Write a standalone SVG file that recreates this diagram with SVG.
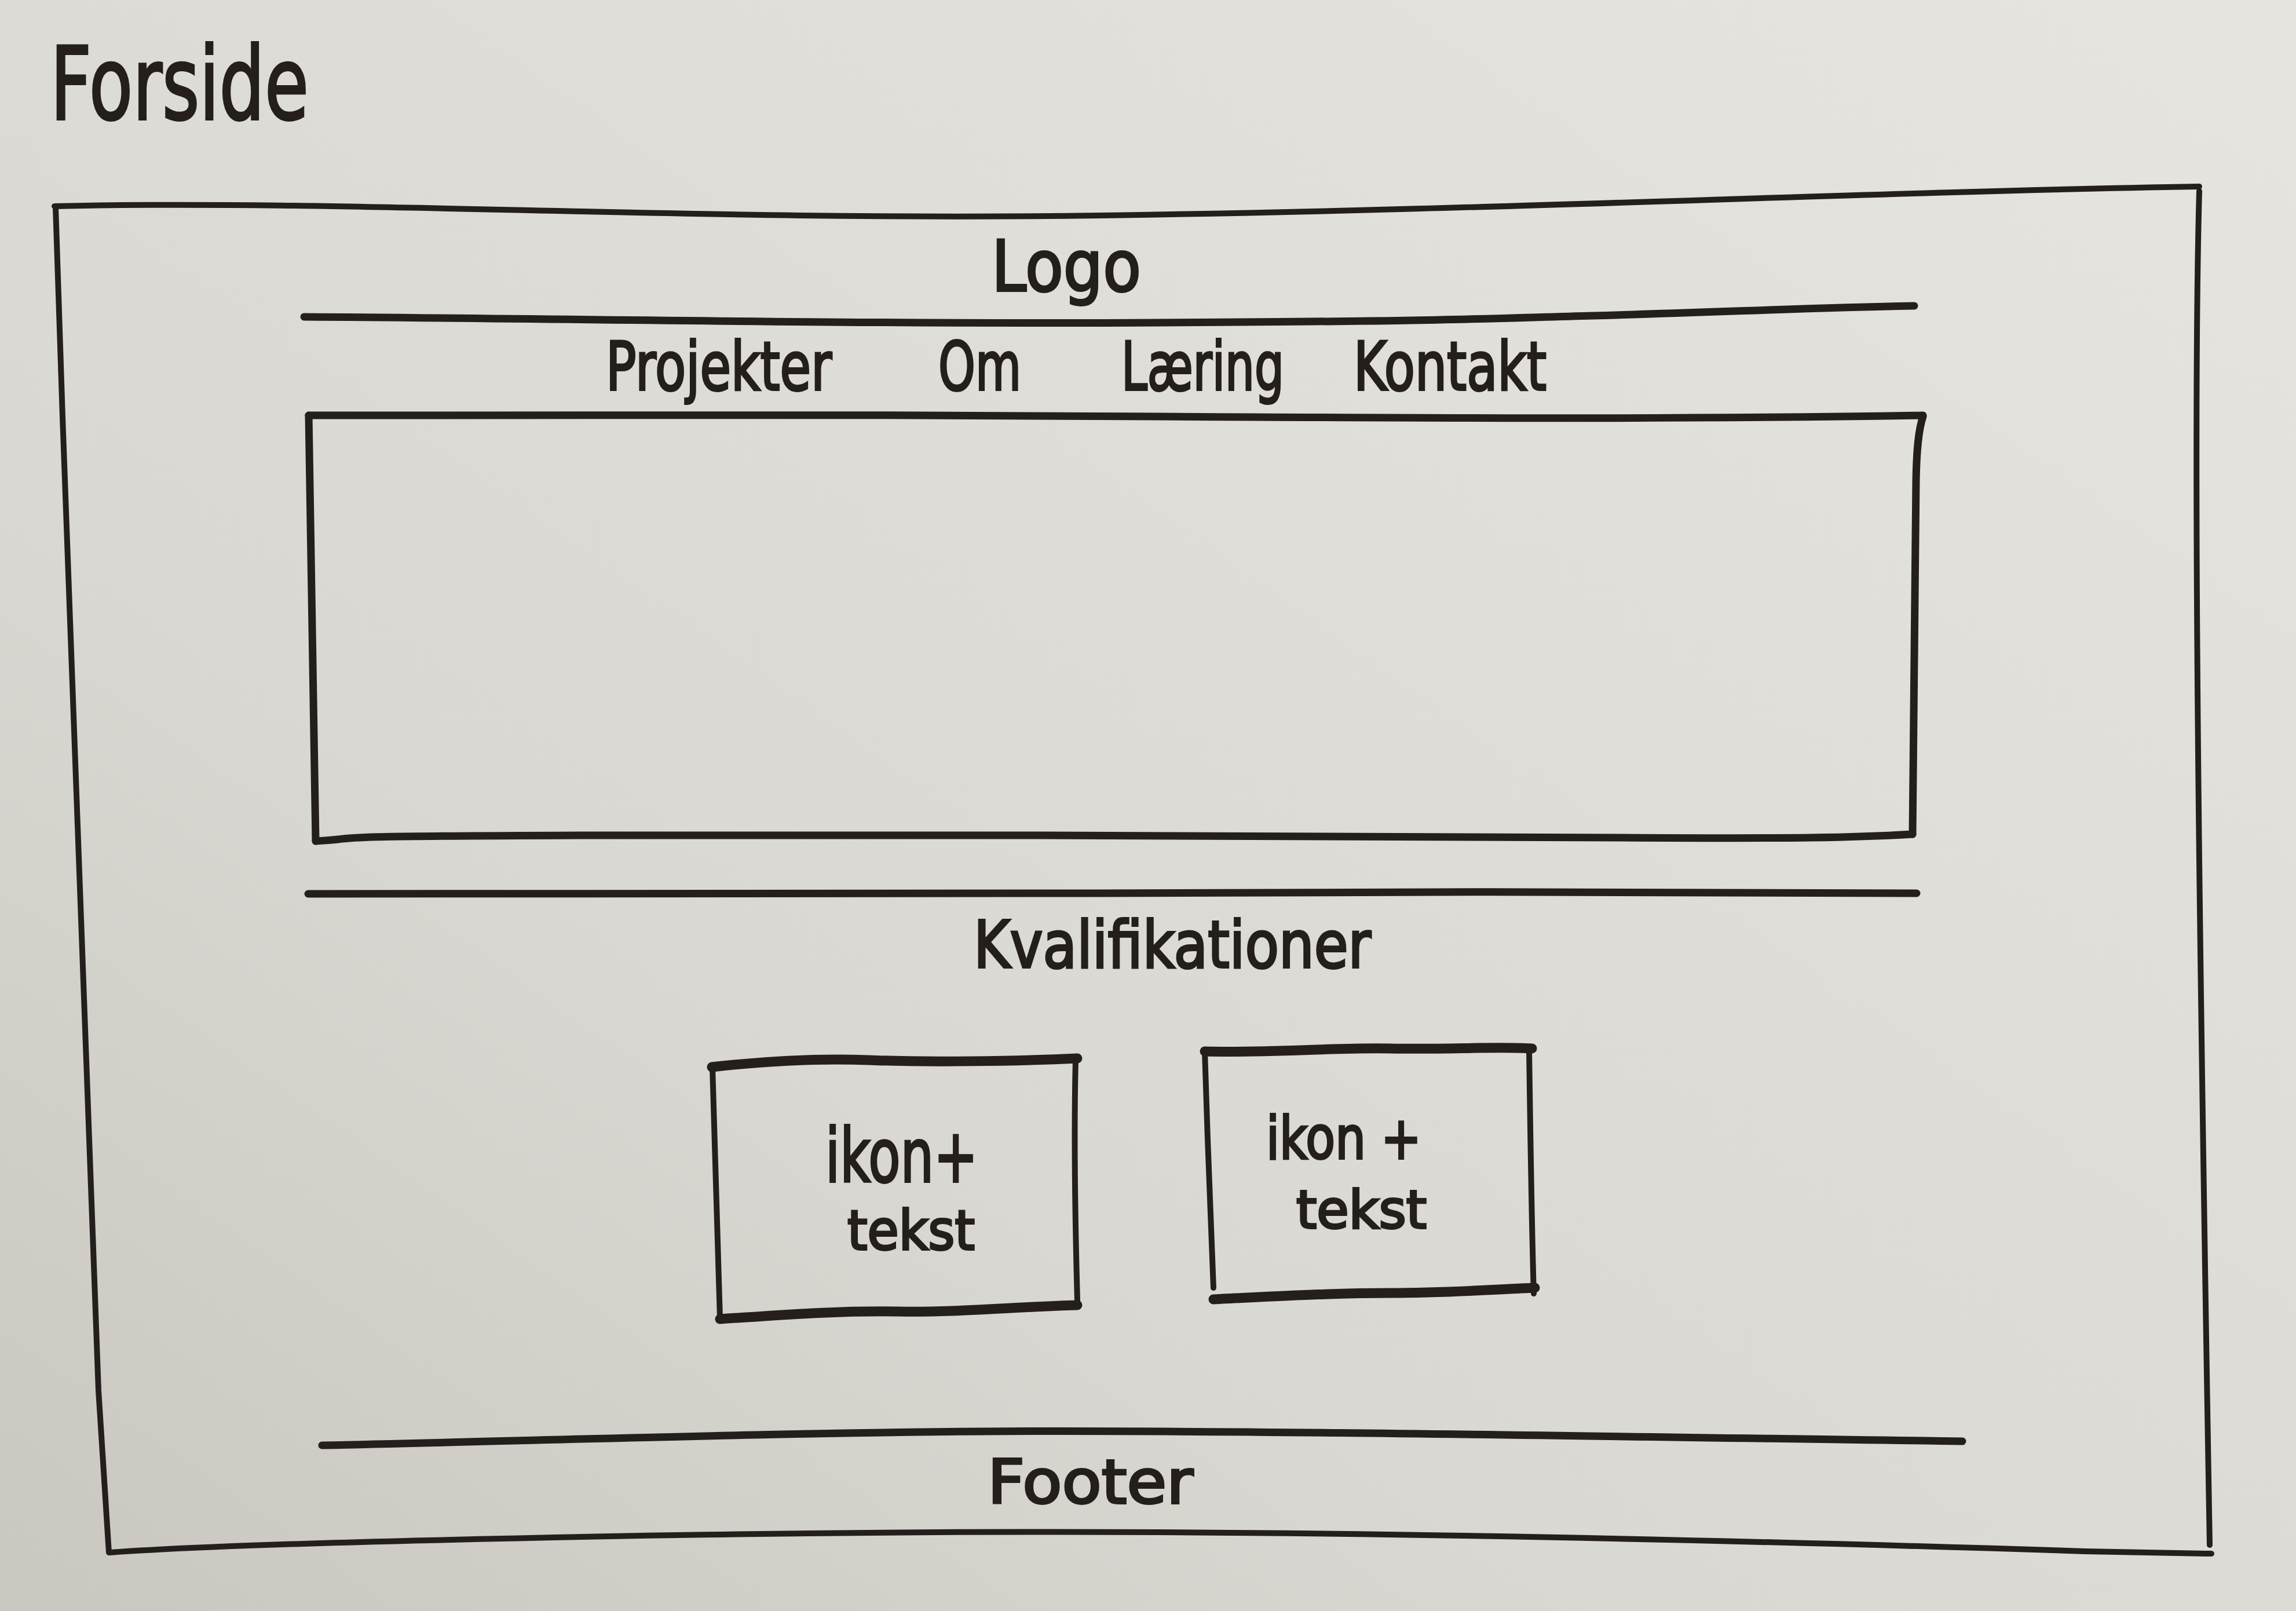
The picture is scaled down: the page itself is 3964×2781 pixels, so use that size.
<svg xmlns="http://www.w3.org/2000/svg" width="3964" height="2781" viewBox="0 0 3964 2781">
  <defs>
    <linearGradient id="paper" x1="0" y1="1" x2="1" y2="0">
      <stop offset="0" stop-color="#c9c7bf"/>
      <stop offset="0.35" stop-color="#d9d8d2"/>
      <stop offset="1" stop-color="#e6e5e0"/>
    </linearGradient>
    <style>
      .ink { fill: none; stroke: #241f1c; stroke-linecap: round; stroke-linejoin: round; }
      .thin { stroke-width: 10; }
      .mid { stroke-width: 13; }
      .thick { stroke-width: 17; }
      .hand { font-family: "DejaVu Sans", "Liberation Sans", sans-serif; fill: #241f1c; stroke: #241f1c; stroke-width: 4; }
    </style>
  </defs>

  <!-- paper -->
  <rect x="0" y="0" width="3964" height="2781" fill="url(#paper)"/>

  <!-- page title -->
  <g id="title">
    <text class="hand" x="87" y="206" font-size="175" textLength="446" lengthAdjust="spacingAndGlyphs">Forside</text>
  </g>

  <!-- outer page frame -->
  <g id="page-frame">
    <path class="ink thin" d="M94,356 C600,344 1200,382 1900,372 S3200,332 3797,322"/>
    <path class="ink thin" d="M96,358 C120,1100 150,1900 170,2400 L188,2680"/>
    <path class="ink thin" d="M3797,330 C3784,800 3800,1800 3815,2667"/>
    <path class="ink thin" d="M190,2680 C300,2672 500,2665 700,2660 S1400,2642 2000,2645 S3300,2668 3600,2678 L3818,2682"/>
  </g>

  <!-- header: logo and navigation -->
  <g id="header">
    <text class="hand" x="1712" y="502" font-size="122" textLength="258" lengthAdjust="spacingAndGlyphs">Logo</text>
  </g>

  <g id="nav">
    <text class="hand" x="1046" y="673" font-size="116" textLength="390" lengthAdjust="spacingAndGlyphs">Projekter</text>
    <text class="hand" x="1620" y="673" font-size="116" textLength="143" lengthAdjust="spacingAndGlyphs">Om</text>
    <text class="hand" x="1936" y="673" font-size="116" textLength="281" lengthAdjust="spacingAndGlyphs">Læring</text>
    <text class="hand" x="2337" y="673" font-size="116" textLength="333" lengthAdjust="spacingAndGlyphs">Kontakt</text>
  </g>

  <!-- hero area -->
  <g id="hero">
    <path class="ink mid" d="M533,717 C900,714 1500,716 2000,719 S2900,724 3320,717"/>
    <path class="ink mid" d="M3320,719 C3313,740 3309,770 3308,830 L3302,1440"/>
    <path class="ink mid" d="M3302,1440 C3200,1446 3100,1448 2800,1446 S1500,1440 1000,1442 S650,1446 545,1452"/>
    <path class="ink mid" d="M545,1452 C540,1200 536,950 533,717"/>
  </g>

  <!-- qualifications section -->
  <g id="qualifications">
    <text class="hand" x="1681" y="1670" font-size="112" textLength="686" lengthAdjust="spacingAndGlyphs">Kvalifikationer</text>
  </g>

  <g id="card-1">
    <path class="ink thick" d="M1229,1842 C1300,1834 1400,1826 1500,1830 S1750,1832 1860,1827"/>
    <path class="ink thin" d="M1857,1830 C1854,1950 1856,2100 1860,2245"/>
    <path class="ink thick" d="M1243,2277 C1350,2270 1450,2262 1550,2264 S1750,2256 1860,2253"/>
    <path class="ink thin" d="M1230,1842 C1236,2000 1238,2150 1243,2275"/>
    <text class="hand" x="1425" y="2040" font-size="128" textLength="263" lengthAdjust="spacingAndGlyphs">ikon+</text>
    <text class="hand" x="1463" y="2157" font-size="94" textLength="220" lengthAdjust="spacingAndGlyphs">tekst</text>
  </g>

  <g id="card-2">
    <path class="ink thick" d="M2080,1815 C2200,1818 2300,1808 2400,1810 S2580,1806 2645,1810"/>
    <path class="ink thin" d="M2640,1812 C2642,1950 2644,2100 2648,2233"/>
    <path class="ink thick" d="M2095,2243 C2200,2238 2300,2232 2400,2232 S2580,2226 2650,2223"/>
    <path class="ink thin" d="M2080,1815 C2084,1950 2090,2100 2095,2223"/>
    <text class="hand" x="2186" y="2000" font-size="102" textLength="268" lengthAdjust="spacingAndGlyphs">ikon +</text>
    <text class="hand" x="2238" y="2120" font-size="90" textLength="225" lengthAdjust="spacingAndGlyphs">tekst</text>
  </g>

  <!-- footer -->
  <g id="footer">
    <text class="hand" x="1705" y="2595" font-size="106" textLength="355" lengthAdjust="spacingAndGlyphs">Footer</text>
  </g>

  <!-- horizontal dividers between sections -->
  <g id="connectors">
    <path class="ink mid" d="M525,547 C1000,550 1500,560 2000,557 S2500,552 2750,545 S3100,532 3305,528"/>
    <path class="ink mid" d="M532,1543 C900,1540 1400,1546 1900,1542 S2800,1540 3309,1542"/>
    <path class="ink mid" d="M556,2495 C900,2488 1300,2474 1700,2471 S2800,2480 3388,2488"/>
  </g>
</svg>
